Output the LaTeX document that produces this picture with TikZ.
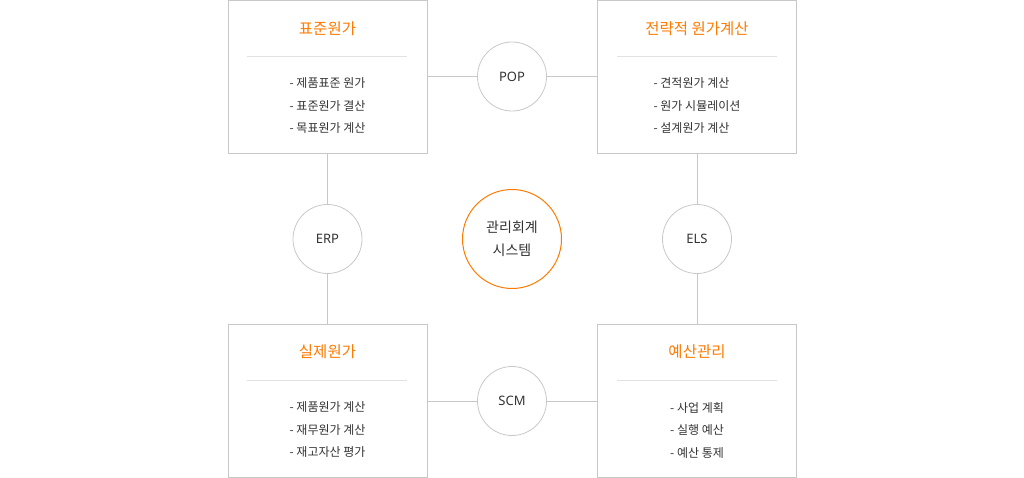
\documentclass[tikz,border=0pt]{standalone}
\usepackage{fontspec}
\setmainfont{Noto Sans CJK KR}
\newfontfamily\latinsf{Noto Sans}
\definecolor{boxline}{HTML}{C8C8C8}
\definecolor{divline}{HTML}{E2E2E2}
\definecolor{accent}{HTML}{FF7A00}
\definecolor{txt}{HTML}{333333}
\begin{document}
\begin{tikzpicture}[x=1pt,y=-1pt,
  card/.style={draw=boxline,line width=0.9pt,minimum width=199pt,minimum height=153pt,inner sep=0pt},
  cardtitle/.style={text=accent,font=\fontsize{15.5}{17}\selectfont,inner sep=0pt},
  items/.style={text=txt,font=\fontsize{12}{22.5}\selectfont,align=left,inner sep=0pt},
  hub/.style={circle,draw=boxline,line width=0.8pt,minimum size=69pt,inner sep=0pt,text=txt,font=\latinsf\fontsize{13}{14}\selectfont},
  core/.style={circle,draw=accent,line width=1pt,minimum size=99pt,inner sep=0pt,text=txt,align=center,font=\fontsize{14}{23}\selectfont},
  link/.style={draw=boxline,line width=0.8pt},
  divider/.style={draw=divline,line width=0.8pt}]
\useasboundingbox (0,0) rectangle (1024,478);
% cards
\node[card] (tl) at (327.5,76.5) {};
\node[card] (tr) at (697,76.5) {};
\node[card] (bl) at (327.5,400.5) {};
\node[card] (br) at (697,400.5) {};
% titles
\node[cardtitle] (tlt) at (327.5,29) {표준원가};
\node[cardtitle] (trt) at (697,29) {전략적 원가계산};
\node[cardtitle] (blt) at (327.5,352) {실제원가};
\node[cardtitle] (brt) at (697,352) {예산관리};
% dividers
\coordinate (tld1) at (247,56.5); \coordinate (tld2) at (407,56.5);
\coordinate (trd1) at (617,56.5); \coordinate (trd2) at (777,56.5);
\coordinate (bld1) at (247,380.5); \coordinate (bld2) at (407,380.5);
\coordinate (brd1) at (617,380.5); \coordinate (brd2) at (777,380.5);
\draw[divider] (tld1) -- (tld2);
\draw[divider] (trd1) -- (trd2);
\draw[divider] (bld1) -- (bld2);
\draw[divider] (brd1) -- (brd2);
% items
\node[items] (tli) at (327.5,106) {- 제품표준 원가\\- 표준원가 결산\\- 목표원가 계산};
\node[items] (tri) at (697,106) {- 견적원가 계산\\- 원가 시뮬레이션\\- 설계원가 계산};
\node[items] (bli) at (327.5,430) {- 제품원가 계산\\- 재무원가 계산\\- 재고자산 평가};
\node[items] (bri) at (697,430) {- 사업 계획\\- 실행 예산\\- 예산 통제};
% hubs
\node[hub] (pop) at (512,76.5) {POP};
\node[hub] (erp) at (327.5,239) {ERP};
\node[hub] (els) at (697,239) {ELS};
\node[hub] (scm) at (512,401) {SCM};
\node[core] (core) at (512,239) {관리회계\\시스템};
% links
\draw[link] (tl.east |- pop) -- (pop.west);
\draw[link] (pop.east) -- (tr.west |- pop);
\draw[link] (tl.south) -- (erp.north);
\draw[link] (erp.south) -- (bl.north);
\draw[link] (tr.south) -- (els.north);
\draw[link] (els.south) -- (br.north);
\draw[link] (bl.east |- scm) -- (scm.west);
\draw[link] (scm.east) -- (br.west |- scm);
\end{tikzpicture}
\end{document}
